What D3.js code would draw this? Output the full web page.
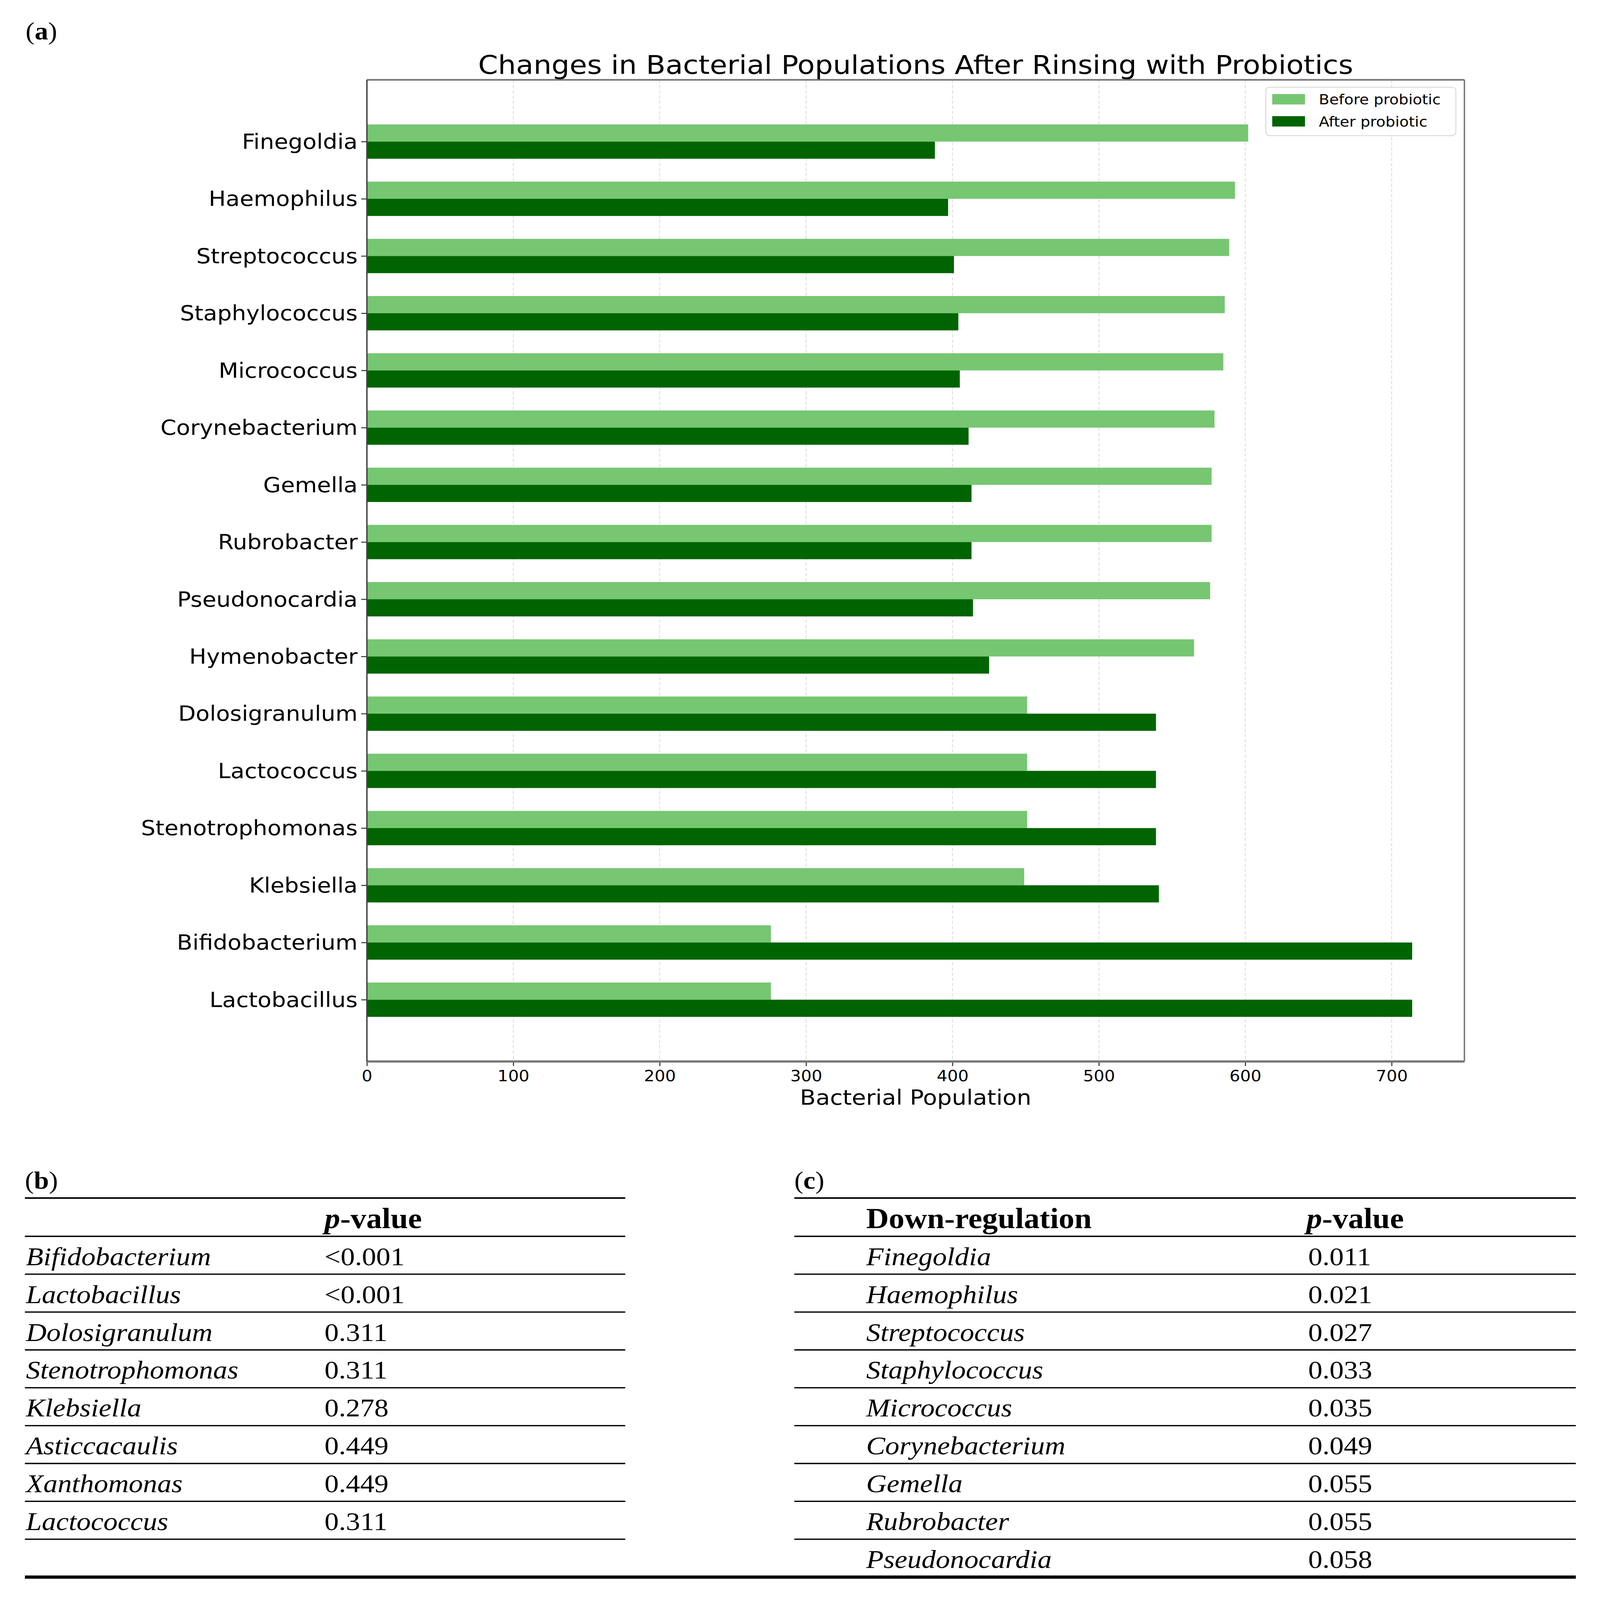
<!DOCTYPE html>
<html>
<head>
<meta charset="utf-8">
<script src="https://cdn.jsdelivr.net/npm/d3@7"></script>
<style>
  html, body { margin: 0; background: #fff; overflow: hidden; }
  svg { display: block; }
</style>
</head>
<body>
<svg id="fig"></svg>
<script>
// Chart data (panel a)
var genera = ["Finegoldia", "Haemophilus", "Streptococcus", "Staphylococcus", "Micrococcus",
  "Corynebacterium", "Gemella", "Rubrobacter", "Pseudonocardia", "Hymenobacter",
  "Dolosigranulum", "Lactococcus", "Stenotrophomonas", "Klebsiella", "Bifidobacterium", "Lactobacillus"];
var beforeValues = [602, 593, 589, 586, 585, 579, 577, 577, 576, 565, 451, 451, 451, 449, 276, 276];
var afterValues = [388, 397, 401, 404, 405, 411, 413, 413, 414, 425, 539, 539, 539, 541, 714, 714];
var xTicks = [0, 100, 200, 300, 400, 500, 600, 700];
var seriesNames = ["Before probiotic", "After probiotic"];

// Table data (panels b and c)
var upGenera = ["Bifidobacterium", "Lactobacillus", "Dolosigranulum", "Stenotrophomonas",
  "Klebsiella", "Asticcacaulis", "Xanthomonas", "Lactococcus"];
var upPvalues = ["<0.001", "<0.001", "0.311", "0.311", "0.278", "0.449", "0.449", "0.311"];
var downGenera = ["Finegoldia", "Haemophilus", "Streptococcus", "Staphylococcus", "Micrococcus",
  "Corynebacterium", "Gemella", "Rubrobacter", "Pseudonocardia"];
var downPvalues = ["0.011", "0.021", "0.027", "0.033", "0.035", "0.049", "0.055", "0.055", "0.058"];

var colors = ["#76c672", "#006400"];
var sans = "DejaVu Sans, Verdana, sans-serif";
var serif = "Liberation Serif, Times New Roman, serif";

// Figure canvas: drawn in 4496x4932 units, stretched to whatever the window gives
var W = 4496, H = 4932;
var svg = d3.select("#fig")
  .attr("width", window.innerWidth || W)
  .attr("height", window.innerHeight || H)
  .attr("viewBox", "0 0 " + W + " " + H)
  .attr("preserveAspectRatio", "none");
svg.append("rect").attr("width", W).attr("height", H).attr("fill", "#fff");

// ---------- Panel (a): grouped horizontal bars ----------
var plot = { left: 1031, right: 4115, top: 246, bottom: 3272 };
var barH = 0.3;
var pad = (genera.length - 1 + 2 * barH) * 0.05;

var x = d3.scaleLinear()
  .domain([0, d3.max(beforeValues.concat(afterValues)) * 1.05])
  .range([plot.left, plot.right]);
var y = d3.scaleLinear()
  .domain([-barH - pad, genera.length - 1 + barH + pad])
  .range([plot.top, plot.bottom]);

// Grid lines
svg.append("g").attr("class", "grid")
  .selectAll("line").data(xTicks.slice(1)).enter().append("line")
  .attr("x1", function (d) { return x(d); })
  .attr("x2", function (d) { return x(d); })
  .attr("y1", plot.top).attr("y2", plot.bottom)
  .attr("stroke", "#e2e2e2").attr("stroke-width", 3)
  .attr("stroke-dasharray", "10,6");

// Bars
var bars = svg.append("g").attr("class", "bars");
bars.selectAll("rect.before").data(beforeValues).enter().append("rect")
  .attr("class", "before")
  .attr("x", x(0))
  .attr("y", function (d, i) { return y(i - barH); })
  .attr("width", function (d) { return x(d) - x(0); })
  .attr("height", function (d, i) { return y(i) - y(i - barH); })
  .attr("fill", colors[0]);
bars.selectAll("rect.after").data(afterValues).enter().append("rect")
  .attr("class", "after")
  .attr("x", x(0))
  .attr("y", function (d, i) { return y(i); })
  .attr("width", function (d) { return x(d) - x(0); })
  .attr("height", function (d, i) { return y(i + barH) - y(i); })
  .attr("fill", colors[1]);

// Axes
var xAxis = svg.append("g")
  .attr("transform", "translate(0," + plot.bottom + ")")
  .call(d3.axisBottom(x).tickValues(xTicks).tickSize(14).tickSizeOuter(0).tickPadding(14));
xAxis.select(".domain").remove();
xAxis.selectAll("line").attr("stroke", "#333").attr("stroke-width", 3);
xAxis.selectAll("text").attr("font-family", sans).attr("font-size", 47).attr("fill", "#000");

var yAxis = svg.append("g")
  .attr("transform", "translate(" + plot.left + ",0)")
  .call(d3.axisLeft(y).tickValues(d3.range(genera.length))
    .tickFormat(function (i) { return genera[i]; })
    .tickSize(16).tickSizeOuter(0).tickPadding(10));
yAxis.select(".domain").remove();
yAxis.selectAll("line").attr("stroke", "#333").attr("stroke-width", 3);
yAxis.selectAll("text").attr("font-family", sans).attr("font-size", 64).attr("fill", "#000")
  .attr("dy", "0.34em");

// Spines
var spines = svg.append("g").attr("class", "spines");
spines.append("line").attr("x1", plot.left).attr("x2", plot.right).attr("y1", plot.top).attr("y2", plot.top)
  .attr("stroke", "#777").attr("stroke-width", 5);
spines.append("line").attr("x1", plot.left).attr("x2", plot.right).attr("y1", plot.bottom).attr("y2", plot.bottom)
  .attr("stroke", "#777").attr("stroke-width", 7);
spines.append("line").attr("x1", plot.right).attr("x2", plot.right).attr("y1", plot.top).attr("y2", plot.bottom)
  .attr("stroke", "#777").attr("stroke-width", 4);
spines.append("line").attr("x1", plot.left).attr("x2", plot.left).attr("y1", plot.top).attr("y2", plot.bottom)
  .attr("stroke", "#444").attr("stroke-width", 4);

// Title and axis label
svg.append("text").attr("x", (plot.left + plot.right) / 2).attr("y", 227)
  .attr("text-anchor", "middle").attr("font-family", sans).attr("font-size", 80)
  .text("Changes in Bacterial Populations After Rinsing with Probiotics");
svg.append("text").attr("x", (plot.left + plot.right) / 2).attr("y", 3405)
  .attr("text-anchor", "middle").attr("font-family", sans).attr("font-size", 65)
  .text("Bacterial Population");

// Legend
var legend = svg.append("g").attr("transform", "translate(3557,269)");
legend.append("rect").attr("width", 534).attr("height", 149).attr("rx", 10)
  .attr("fill", "#fff").attr("fill-opacity", 0.85).attr("stroke", "#dcdcdc").attr("stroke-width", 3);
var items = legend.selectAll("g.item").data(seriesNames).enter().append("g")
  .attr("class", "item")
  .attr("transform", function (d, i) { return "translate(18," + (21 + i * 68) + ")"; });
items.append("rect").attr("width", 92).attr("height", 32)
  .attr("fill", function (d, i) { return colors[i]; });
items.append("text").attr("x", 131).attr("y", 32)
  .attr("font-family", sans).attr("font-size", 43).text(function (d) { return d; });

// ---------- Panel labels ----------
function panelLabel(px, py, letter) {
  var t = svg.append("text").attr("x", px).attr("y", py)
    .attr("font-family", serif).attr("font-size", 76);
  t.append("tspan").text("(");
  t.append("tspan").attr("font-weight", "bold").text(letter);
  t.append("tspan").text(")");
}
panelLabel(72, 122, "a");
panelLabel(70, 3664, "b");
panelLabel(2232, 3664, "c");

// ---------- Tables (panels b and c) ----------
var tableTop = 3693;
var headRule = 3811;
var rowH = 116.7;
var fontSize = 80;
var headSize = 88;

function pHeader(px) {
  var t = svg.append("text").attr("x", px).attr("y", 3786)
    .attr("font-family", serif).attr("font-size", headSize).attr("font-weight", "bold");
  t.append("tspan").attr("font-style", "italic").text("p");
  t.append("tspan").text("-value");
}

function drawTable(names, values, x0, x1, nameX, valueX, rules) {
  var g = svg.append("g");
  g.append("line").attr("x1", x0).attr("x2", x1).attr("y1", tableTop).attr("y2", tableTop)
    .attr("stroke", "#000").attr("stroke-width", 5);
  g.append("line").attr("x1", x0).attr("x2", x1).attr("y1", headRule).attr("y2", headRule)
    .attr("stroke", "#000").attr("stroke-width", 4);
  g.selectAll("line.row").data(d3.range(rules)).enter().append("line")
    .attr("class", "row")
    .attr("x1", x0).attr("x2", x1)
    .attr("y1", function (i) { return headRule + (i + 1) * rowH; })
    .attr("y2", function (i) { return headRule + (i + 1) * rowH; })
    .attr("stroke", "#000").attr("stroke-width", 4);
  g.selectAll("text.name").data(names).enter().append("text")
    .attr("class", "name")
    .attr("x", nameX)
    .attr("y", function (d, i) { return headRule + (i + 1) * rowH - 28; })
    .attr("font-family", serif).attr("font-size", fontSize).attr("font-style", "italic")
    .text(function (d) { return d; });
  g.selectAll("text.pval").data(values).enter().append("text")
    .attr("class", "pval")
    .attr("x", valueX)
    .attr("y", function (d, i) { return headRule + (i + 1) * rowH - 28; })
    .attr("font-family", serif).attr("font-size", fontSize)
    .text(function (d) { return d; });
}

drawTable(upGenera, upPvalues, 70, 1757, 73, 912, upGenera.length);
pHeader(912);

drawTable(downGenera, downPvalues, 2232, 4428, 2434, 3676, downGenera.length - 1);
svg.append("text").attr("x", 2434).attr("y", 3786)
  .attr("font-family", serif).attr("font-size", headSize).attr("font-weight", "bold")
  .text("Down-regulation");
pHeader(3671);

// Closing thick rule under both tables
svg.append("line").attr("x1", 70).attr("x2", 4428)
  .attr("y1", headRule + downGenera.length * rowH).attr("y2", headRule + downGenera.length * rowH)
  .attr("stroke", "#000").attr("stroke-width", 10);
</script>
</body>
</html>
